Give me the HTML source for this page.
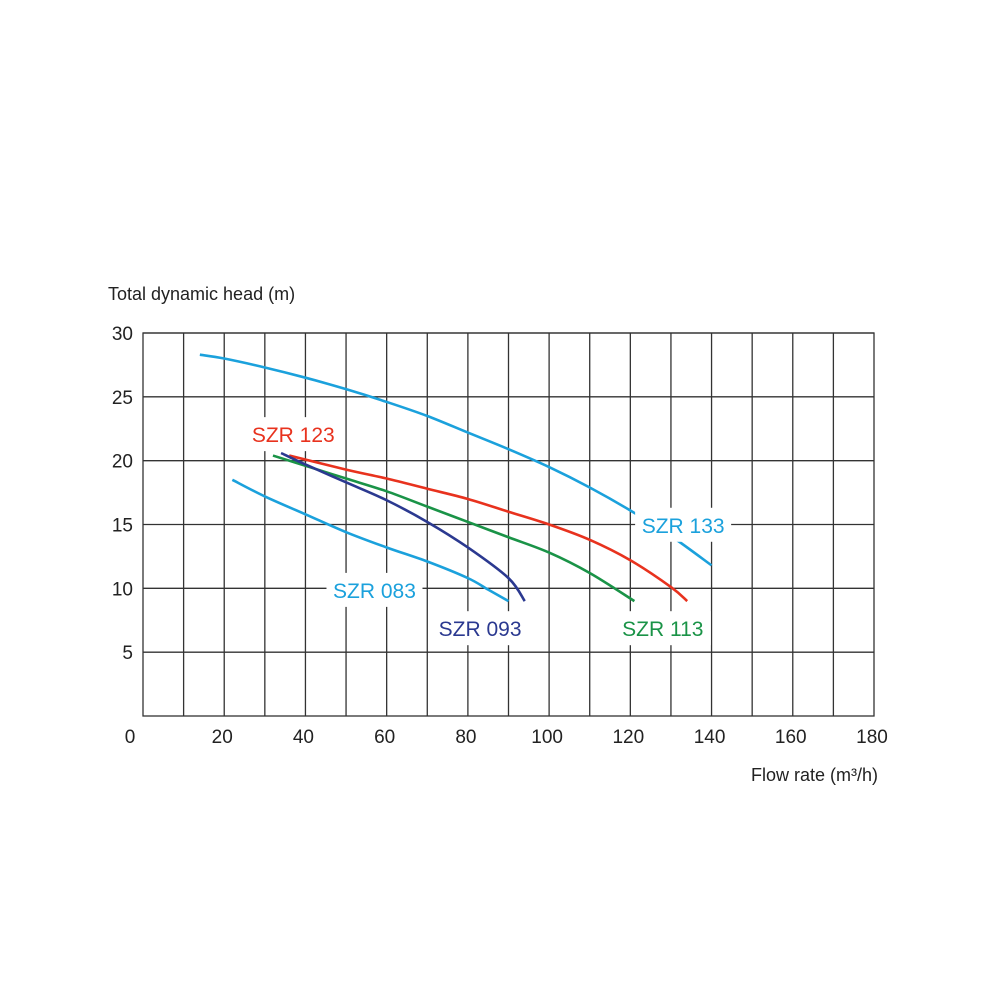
<!DOCTYPE html>
<html><head><meta charset="utf-8"><style>
body{margin:0;background:#fff;}
svg{display:block;font-family:"Liberation Sans",sans-serif;}
</style></head><body>
<svg id="chart" width="1000" height="1000">
<rect width="1000" height="1000" fill="#fff"/>
<g id="grid"></g><g id="curves"></g><g id="labels"></g>
<text x="108" y="300" font-size="18" fill="#222">Total dynamic head (m)</text>
<text x="878" y="781" font-size="18" fill="#222" text-anchor="end">Flow rate (m³/h)</text>
</svg>
<script>
const xTicks=[0,20,40,60,80,100,120,140,160,180];
const yTicks=[5,10,15,20,25,30];
const names=["SZR 133","SZR 083","SZR 123","SZR 113","SZR 093"];
const colors=["#1ba1dc","#1ba1dc","#e8321e","#1a9347","#2b3990"];
const s133x=[14,20,30,40,50,60,70,80,90,100,110,120,130,140];
const s133y=[28.3,28,27.3,26.5,25.6,24.6,23.5,22.2,20.9,19.5,17.9,16.1,14.1,11.8];
const s083x=[22,30,40,50,60,70,80,85,90];
const s083y=[18.5,17.2,15.8,14.4,13.2,12.1,10.8,9.9,9];
const s123x=[36,50,60,70,80,90,100,110,120,130,134];
const s123y=[20.4,19.3,18.6,17.8,17,16,15,13.8,12.2,10.1,9];
const s113x=[32,40,50,60,70,80,90,100,110,121];
const s113y=[20.4,19.6,18.6,17.6,16.4,15.2,14,12.8,11.2,9];
const s093x=[34,40,50,60,70,80,90,94];
const s093y=[20.6,19.7,18.3,16.9,15.2,13.2,10.8,9];
const seriesX=[s133x,s083x,s123x,s113x,s093x];
const seriesY=[s133y,s083y,s123y,s113y,s093y];
const labelPos=[[133,14.9],[57,9.8],[37,22],[128,6.8],[83,6.8]];
const X0=143,X1=874,Y0=716,Y1=333;
const sx=v=>X0+(X1-X0)*v/180, sy=v=>Y0-(Y0-Y1)*v/30;
const NS="http://www.w3.org/2000/svg";
function mk(t,a,p){const e=document.createElementNS(NS,t);for(const k in a)e.setAttribute(k,a[k]);p.appendChild(e);return e;}
const g=document.getElementById('grid');
for(let v=10;v<180;v+=10){
  const l=mk('line',{x1:sx(v),x2:sx(v),y1:Y1,y2:Y0,stroke:'#333','stroke-width':1.3},g);
  
  
}
for(const v of yTicks){
  const l=mk('line',{x1:X0,x2:X1,y1:sy(v),y2:sy(v),stroke:'#333','stroke-width':1.3},g);
  
  
}
const fr=mk('rect',{x:X0,y:Y1,width:X1-X0,height:Y0-Y1,fill:'none',stroke:'#333','stroke-width':1.3},g);


for(const v of xTicks){
  const t=mk('text',{x:v===0?130:sx(v)-2,y:743,'font-size':19,fill:'#222','text-anchor':'middle'},g);
  t.textContent=v;
  
  
}
for(const v of yTicks){
  const t=mk('text',{x:133,y:sy(v)+7,'font-size':19,fill:'#222','text-anchor':'end'},g);
  t.textContent=v;
  
  
}
const cg=document.getElementById('curves');
seriesX.forEach((xs,i)=>{
  const ys=seriesY[i];const P=xs.map((x,j)=>[sx(x),sy(ys[j])]);
  let d='M'+P[0][0]+','+P[0][1];
  for(let j=0;j<P.length-1;j++){
    const p0=P[j-1]||P[j],p1=P[j],p2=P[j+1],p3=P[j+2]||P[j+1];
    d+=' C'+(p1[0]+(p2[0]-p0[0])/6)+','+(p1[1]+(p2[1]-p0[1])/6)+' '+(p2[0]-(p3[0]-p1[0])/6)+','+(p2[1]-(p3[1]-p1[1])/6)+' '+p2[0]+','+p2[1];
  }
  const p=mk('path',{d:d,fill:'none',stroke:colors[i],'stroke-width':2.6},cg);
  
  
});
const lg=document.getElementById('labels');
names.forEach((n,i)=>{
  const x=sx(labelPos[i][0]),y=sy(labelPos[i][1]);
  const r=mk('rect',{x:x-48,y:y-18,width:96,height:34,fill:'#fff'},lg);
  
  
  const t=mk('text',{x:x,y:y+7,'font-size':21,fill:colors[i],'text-anchor':'middle'},lg);
  t.textContent=n;
  
  
});
</script>
</body></html>
